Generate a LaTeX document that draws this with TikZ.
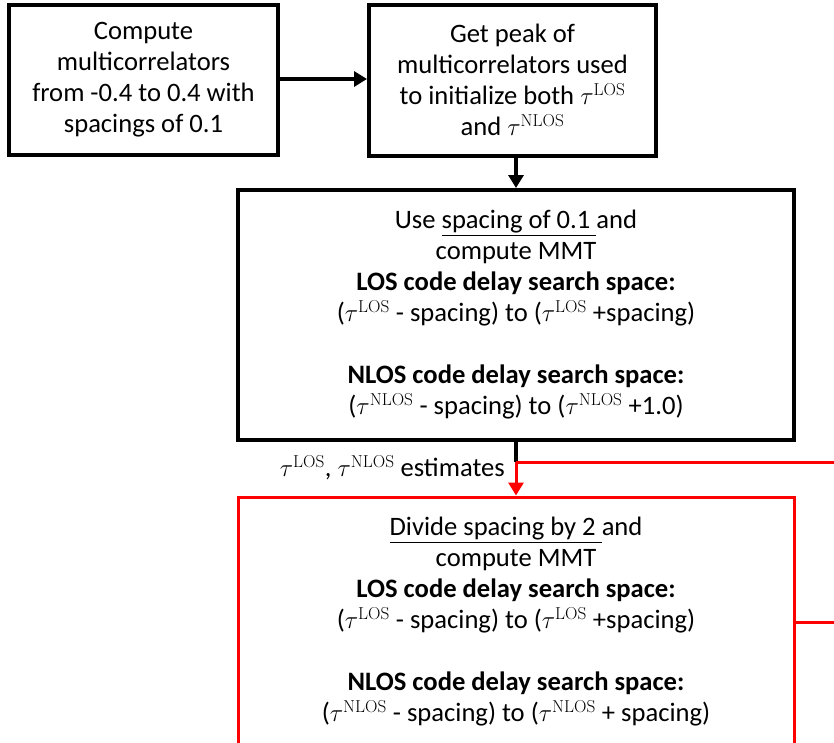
\documentclass[tikz,border=0pt]{standalone}
\usepackage[no-math]{fontspec}
\setmainfont{Carlito}
\usetikzlibrary{arrows.meta}
\definecolor{myred}{RGB}{255,0,0}
\newcommand{\tl}{$\tau^{\mathrm{LOS}}$}
\newcommand{\tn}{$\tau^{\mathrm{NLOS}}$}
\tikzset{
  blk/.style={draw=black, line width=4pt, align=center, inner sep=0pt,
    font=\fontsize{26.6}{31}\selectfont},
  redbox/.style={draw=myred, line width=3pt, align=center, inner sep=0pt,
    font=\fontsize{26.6}{31}\selectfont},
  conn/.style={line width=4pt, -{Triangle[length=13pt,width=15pt]}},
  rconn/.style={draw=myred, line width=3pt, -{Triangle[length=13pt,width=15pt]}},
}
\begin{document}
\begin{tikzpicture}[x=1pt,y=-1pt]
\useasboundingbox (0,0) rectangle (834,742);
\node[blk, minimum width=269pt, minimum height=150pt] (b1) at (143.5,80)
  {Compute\\multicorrelators\\from -0.4 to 0.4 with\\spacings of 0.1};
\node[blk, minimum width=287pt, minimum height=151pt] (b2) at (512.5,80)
  {Get peak of\\multicorrelators used\\to initialize both \tl\\and \tn};
\node[blk, minimum width=556pt, minimum height=250pt] (b3) at (516,315)
  {Use \underline{spacing of 0.1\ }and\\compute MMT\\\textbf{LOS code delay search space:}\\(\tl\ - spacing) to (\tl\ +spacing)\\[31pt]\textbf{NLOS code delay search space:}\\(\tn\ - spacing) to (\tn\ +1.0)};
\node[redbox, minimum width=556pt, minimum height=250pt] (b4) at (516,622)
  {\underline{Divide spacing by 2\ }and\\compute MMT\\\textbf{LOS code delay search space:}\\(\tl\ - spacing) to (\tl\ +spacing)\\[31pt]\textbf{NLOS code delay search space:}\\(\tn\ - spacing) to (\tn\ + spacing)};
\coordinate (j) at (516,462);
\coordinate (r1) at (845,622);
\coordinate (r2) at (845,462);
\draw[conn] (b1.east |- 0,79) -- (b2.west |- 0,79);
\draw[conn] (b2.south -| j) -- (b3.north -| j);
\draw[line width=4pt] (b3.south -| j) -- (j);
\draw[rconn] (j) -- (b4.north -| j);
\draw[draw=myred, line width=3pt] (b4.east) -- (r1) -- (r2) -- (j);
\node[anchor=east, font=\fontsize{26.6}{31}\selectfont, inner sep=0pt] (lab) at (505,468)
  {\tl, \tn\ estimates};
\end{tikzpicture}
\end{document}
